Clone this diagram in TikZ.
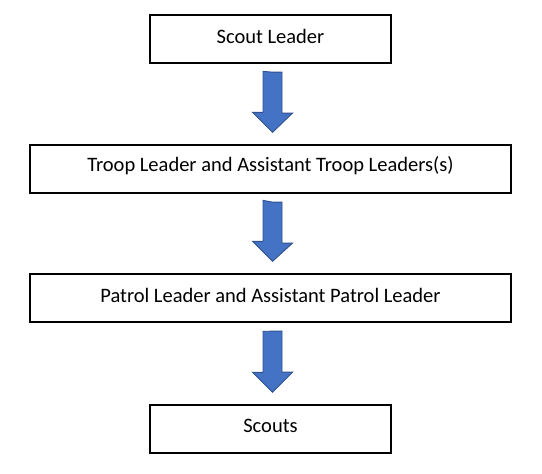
\documentclass[tikz,border=0pt]{standalone}
\usepackage{fontspec}
\setmainfont{Carlito}
\usetikzlibrary{calc}
\definecolor{arrowfill}{HTML}{4472C4}
\definecolor{arrowline}{HTML}{2F528F}
\begin{document}
\begin{tikzpicture}[x=1pt,y=1pt,
  box/.style={draw=black,line width=1.3pt,fill=white,minimum height=48pt,inner sep=0pt,
    font=\fontsize{20.5}{24}\selectfont},
  narrow/.style={box,minimum width=241pt},
  wide/.style={box,minimum width=481pt},
  lbl/.style={font=\fontsize{20.5}{24}\selectfont,inner sep=0pt},
  blk/.style={fill=arrowfill,draw=arrowline,line width=0.9pt,line join=miter}]
\useasboundingbox (0,0) rectangle (542,474);
\node[narrow] (b1) at (270.5,435) {};
\node[wide]   (b2) at (270.5,305) {};
\node[wide]   (b3) at (270.5,176) {};
\node[narrow] (b4) at (270.5,45)  {};
\node[lbl] (t1) at ([yshift=3pt]b1.center) {Scout Leader};
\node[lbl] (t2) at ([yshift=3pt]b2.center) {Troop Leader and Assistant Troop Leaders(s)};
\node[lbl] (t3) at ([yshift=3pt]b3.center) {Patrol Leader and Assistant Patrol Leader};
\node[lbl] (t4) at ([yshift=3pt]b4.center) {Scouts};
\foreach \s/\t in {b1/b2,b2/b3,b3/b4}{
  \draw[blk] ($(\s.south)+(2,-8.5)$) -- ++(9.5,0) -- ++(0,-41) -- ++(10.5,0)
    -- ($(\t.north)+(2,12)$) -- ++(-20,20) -- ++(10.5,0) -- ++(0,41) -- cycle;
}
\end{tikzpicture}
\end{document}
